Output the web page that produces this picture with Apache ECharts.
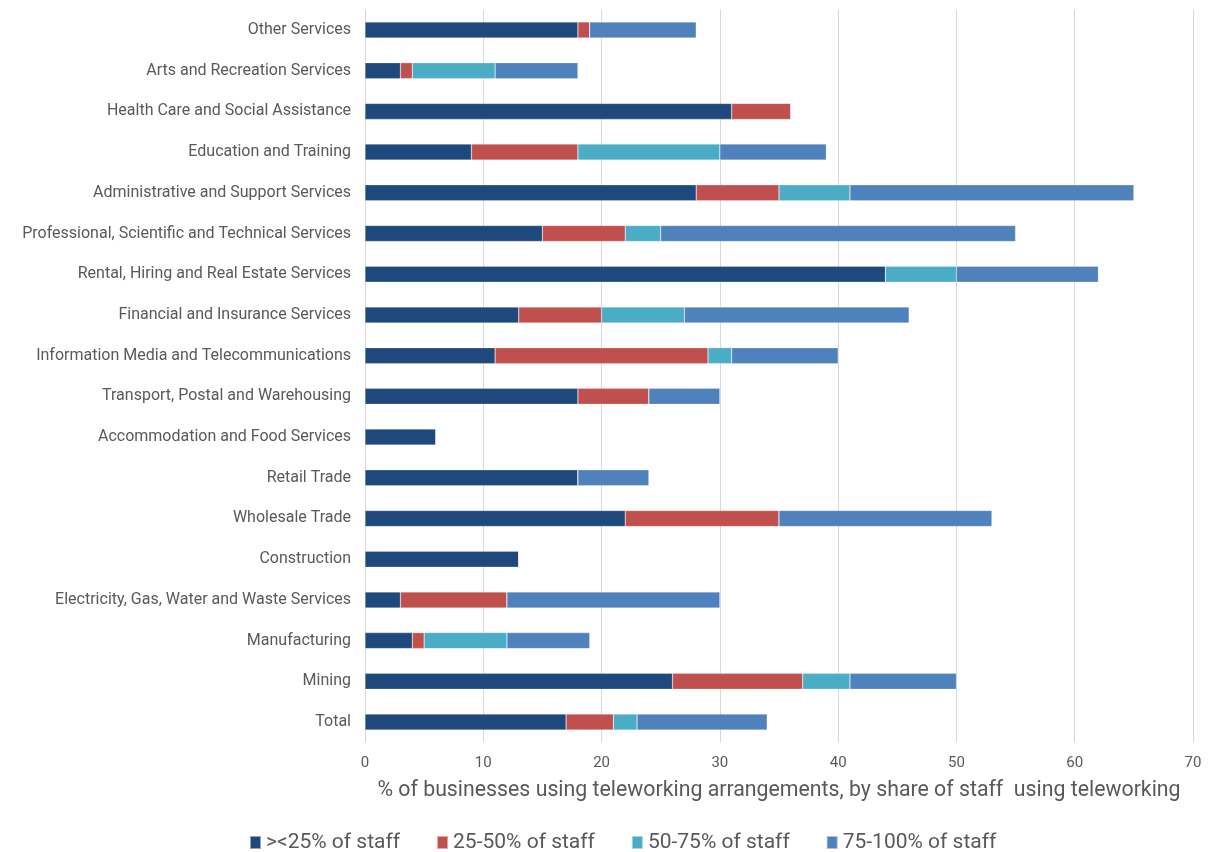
<!DOCTYPE html>
<html><head><meta charset="utf-8">
<script src="https://cdn.jsdelivr.net/npm/echarts@6/dist/echarts.min.js"></script>
<style>html,body{margin:0;padding:0;background:#fff}#c{width:1217px;height:852px}</style>
</head><body><div id="c"></div>
<script>
const categories = ["Total","Mining","Manufacturing","Electricity, Gas, Water and Waste Services","Construction","Wholesale Trade","Retail Trade","Accommodation and Food Services","Transport, Postal and Warehousing","Information Media and Telecommunications","Financial and Insurance Services","Rental, Hiring and Real Estate Services","Professional, Scientific and Technical Services","Administrative and Support Services","Education and Training","Health Care and Social Assistance","Arts and Recreation Services","Other Services"];
const lt25 =   [17,26,4,3,13,22,18,6,18,11,13,44,15,28,9,31,3,18];
const s25_50 = [4,11,1,9,0,13,0,0,6,18,7,0,7,7,9,5,1,1];
const s50_75 = [2,4,7,0,0,0,0,0,0,2,7,6,3,6,12,0,7,0];
const s75_100 =[11,9,7,18,0,18,6,0,6,9,19,12,30,24,9,0,7,9];
const seriesNames = ["><25% of staff","25-50% of staff","50-75% of staff","75-100% of staff"];
const colors = ["#1F497D","#C0504D","#4BACC6","#4F81BD"];
const xTicks = {min:0,max:70,interval:10};

const dataSets=[lt25,s25_50,s50_75,s75_100];
const chart = echarts.init(document.getElementById('c'));
chart.setOption({
  animation:false,
  textStyle:{fontFamily:'Roboto'},
  grid:{left:365,right:24,top:9.6,bottom:109.6,containLabel:false},
  xAxis:{type:'value',min:xTicks.min,max:xTicks.max,interval:xTicks.interval,
    axisLine:{show:false},axisTick:{show:false},
    axisLabel:{color:'#595959',fontSize:15,margin:13},
    splitLine:{lineStyle:{color:'#d9d9d9',width:1}},
    name:'% of businesses using teleworking arrangements, by share of staff  using teleworking',
    nameLocation:'middle',nameGap:38,nameTextStyle:{color:'#595959',fontSize:21.3}},
  yAxis:{type:'category',data:categories,
    axisLine:{show:false},axisTick:{show:false},
    axisLabel:{color:'#595959',fontSize:16,margin:14}},
  legend:{bottom:-6,left:244,itemWidth:11,itemHeight:13,itemGap:36,
    textStyle:{color:'#595959',fontSize:21},icon:'rect',
    data:seriesNames},
  series:dataSets.map((d,i)=>({
    name:seriesNames[i],type:'bar',stack:'t',data:d,barWidth:16,
    itemStyle:{color:colors[i],borderColor:'rgba(255,255,255,0.5)',borderWidth:0.5}
  }))
});
</script></body></html>
